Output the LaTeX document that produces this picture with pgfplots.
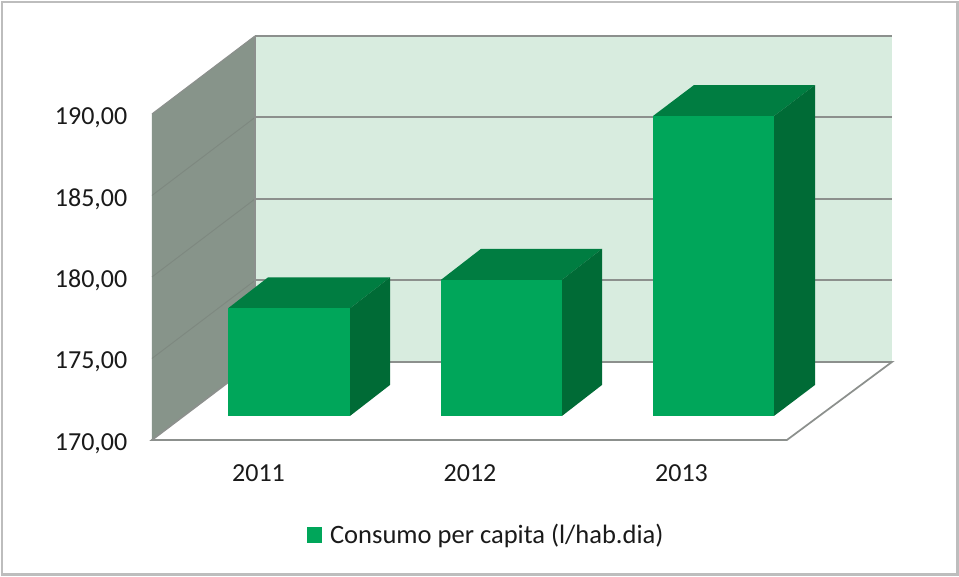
\documentclass[border=0pt]{standalone}
\usepackage{fontspec}
\setmainfont{Carlito}
\usepackage{pgfplots}
\pgfplotsset{compat=1.18}
\definecolor{frameC}{HTML}{BDBDBD}
\definecolor{wallC}{HTML}{87948A}
\definecolor{backC}{HTML}{D8ECDF}
\definecolor{gridC}{HTML}{8C908D}
\definecolor{sideGrid}{HTML}{7E8880}
\definecolor{frontC}{HTML}{00A65A}
\definecolor{topC}{HTML}{007D41}
\definecolor{rightC}{HTML}{006B36}
\definecolor{txtC}{HTML}{1A1A1A}
\begin{document}
\begin{tikzpicture}[x=1pt,y=1pt]
\begin{axis}[
  scale only axis,
  width=476.25pt, height=244.5pt,
  xmin=152, xmax=787, ymin=170, ymax=190,
  clip=false,
  axis on top,
  axis line style={draw=none},
  major tick length=0pt,
  xtick={258.5,470,681.5},
  xticklabels={2011,2012,2013},
  ytick={170,175,180,185,190},
  font=\fontsize{19.5}{23}\selectfont,
  every tick label/.append style={text=txtC},
  xticklabel style={yshift=-15pt},
  yticklabel style={xshift=-15pt,yshift=-2.6pt,
    /pgf/number format/.cd, fixed, fixed zerofill, precision=2, use comma, assume math mode=true},
  legend style={at={(axis cs:302.5,164.17)},anchor=west,draw=none,fill=none,
    font=\fontsize{19.9}{23}\selectfont,text=txtC},
  legend image code/.code={\path[draw=none,fill=none] (0pt,0pt) rectangle (15.5pt,0.1pt);\fill[frontC,draw=none] (0pt,-5.8pt) rectangle (11.6pt,5.8pt);},
]
\addlegendimage{fill=frontC,draw=none}
\addlegendentry{Consumo per capita (l/hab.dia)}
% page and frame
\addplot[fill=white,draw=none,forget plot] coordinates {(0,161.595)(959,161.595)(959,196.99)(0,196.99)} --cycle;
\addplot[fill=frameC,draw=none,forget plot] coordinates {(1,161.66)(959,161.66)(959,196.93)(1,196.93)} --cycle;
\addplot[fill=white,draw=none,forget plot] coordinates {(3,161.85)(955.5,161.85)(955.5,196.8)(3,196.8)} --cycle;
% back wall
\addplot[fill=backC,draw=none,forget plot] coordinates {(255,174.785)(892,174.785)(892,194.785)(255,194.785)} --cycle;
% side wall
\addplot[fill=wallC,draw=none,forget plot] coordinates {(152,170)(255,174.785)(255,194.785)(152,190)} --cycle;
% floor
\addplot[fill=white,draw=gridC,line width=1.3pt,forget plot] coordinates {(152,170)(787,170)(892,174.785)(255,174.785)} --cycle;
% back grid
\addplot[draw=gridC,line width=1.5pt,forget plot] coordinates {(255,179.785)(892,179.785)};
\addplot[draw=gridC,line width=1.5pt,forget plot] coordinates {(255,184.785)(892,184.785)};
\addplot[draw=gridC,line width=1.5pt,forget plot] coordinates {(255,189.785)(892,189.785)};
\addplot[draw=gridC,line width=1.5pt,forget plot] coordinates {(255,194.785)(892,194.785)};
% side grid
\addplot[draw=sideGrid,line width=.7pt,forget plot] coordinates {(152,175)(255,179.785)};
\addplot[draw=sideGrid,line width=.7pt,forget plot] coordinates {(152,180)(255,184.785)};
\addplot[draw=sideGrid,line width=.7pt,forget plot] coordinates {(152,185)(255,189.785)};
\addplot[draw=gridC,line width=.8pt,forget plot] coordinates {(152,190)(255,194.785)};
\addplot[draw=gridC,line width=1pt,forget plot] coordinates {(255,174.785)(255,194.785)};
% bars: value on y, raised to the bar's floor position
\addplot[fill=topC,draw=none,yshift=18pt,forget plot] coordinates {(228,176.6)(350,176.6)(390,178.5)(268,178.5)} --cycle;
\addplot[fill=rightC,draw=none,yshift=18pt,forget plot] coordinates {(350,170)(390,171.9)(390,178.5)(350,176.6)} --cycle;
\addplot[fill=frontC,draw=none,yshift=18pt,forget plot] coordinates {(228,170)(350,170)(350,176.6)(228,176.6)} --cycle;
\addplot[fill=topC,draw=none,yshift=18pt,forget plot] coordinates {(441,178.35)(562,178.35)(602,180.25)(481,180.25)} --cycle;
\addplot[fill=rightC,draw=none,yshift=18pt,forget plot] coordinates {(562,170)(602,171.9)(602,180.25)(562,178.35)} --cycle;
\addplot[fill=frontC,draw=none,yshift=18pt,forget plot] coordinates {(441,170)(562,170)(562,178.35)(441,178.35)} --cycle;
\addplot[fill=topC,draw=none,yshift=18pt,forget plot] coordinates {(653,188.4)(774,188.4)(815,190.3)(694,190.3)} --cycle;
\addplot[fill=rightC,draw=none,yshift=18pt,forget plot] coordinates {(774,170)(815,171.9)(815,190.3)(774,188.4)} --cycle;
\addplot[fill=frontC,draw=none,yshift=18pt,forget plot] coordinates {(653,170)(774,170)(774,188.4)(653,188.4)} --cycle;
\end{axis}
\end{tikzpicture}
\end{document}
